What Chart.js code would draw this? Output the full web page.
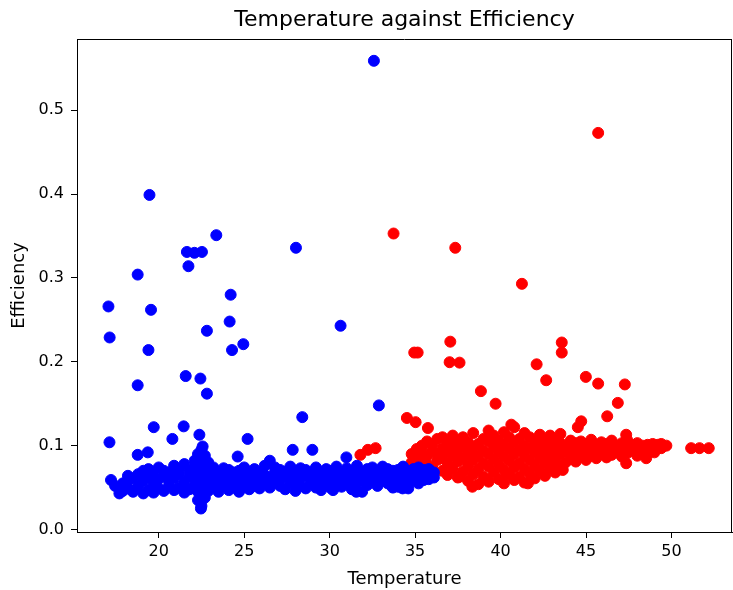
<!DOCTYPE html>
<html>
<head>
<meta charset="utf-8">
<title>Temperature against Efficiency</title>
<script src="https://cdn.jsdelivr.net/npm/chart.js@4.4.0/dist/chart.umd.min.js"></script>
<style>
  html, body { margin: 0; padding: 0; background: #fff; }
  #chart { display: block; }
</style>
</head>
<body>
<canvas id="chart" width="733" height="590"></canvas>
<script>
// [temperature, efficiency] readings, cooler panels
var bluePoints = [
    [32.59, 0.559], [19.46, 0.399], [23.37, 0.351], [28.03, 0.336], [21.65, 0.331],
    [22.09, 0.330], [22.53, 0.331], [21.74, 0.314], [18.77, 0.304], [24.21, 0.280],
    [17.06, 0.266], [19.55, 0.262], [24.15, 0.248], [30.64, 0.243], [22.82, 0.237],
    [17.13, 0.229], [24.95, 0.221], [24.29, 0.214], [19.40, 0.214], [21.58, 0.183],
    [22.44, 0.180], [18.77, 0.172], [22.82, 0.162], [32.88, 0.148], [28.40, 0.134],
    [19.71, 0.122], [21.46, 0.123], [22.38, 0.113], [20.80, 0.108], [25.20, 0.108],
    [17.12, 0.104], [22.57, 0.099], [27.84, 0.095], [28.99, 0.095], [19.36, 0.092],
    [18.77, 0.089], [24.62, 0.087], [30.98, 0.086], [22.47, 0.033], [22.47, 0.025],
    [17.21, 0.059], [17.45, 0.052], [17.70, 0.043], [31.56, 0.045], [33.68, 0.051],
    [34.27, 0.049], [30.2, 0.047],
    [17.9, 0.046], [17.9, 0.055],
    [18.2, 0.049], [18.2, 0.058], [18.2, 0.064],
    [18.5, 0.045], [18.5, 0.061],
    [18.8, 0.052], [18.8, 0.066],
    [19.1, 0.043], [19.1, 0.058], [19.1, 0.070],
    [19.4, 0.047], [19.4, 0.062], [19.4, 0.072],
    [19.7, 0.044], [19.7, 0.055], [19.7, 0.068],
    [20.0, 0.049], [20.0, 0.060], [20.0, 0.074],
    [20.3, 0.046], [20.3, 0.064], [20.3, 0.070],
    [20.6, 0.052], [20.6, 0.058], [20.6, 0.068],
    [20.9, 0.047], [20.9, 0.061], [20.9, 0.076],
    [21.2, 0.050], [21.2, 0.066], [21.2, 0.072],
    [21.5, 0.044], [21.5, 0.057], [21.5, 0.078],
    [21.8, 0.048], [21.8, 0.063], [21.8, 0.070],
    [22.1, 0.052], [22.1, 0.060], [22.1, 0.075], [22.1, 0.082],
    [22.3, 0.035], [22.3, 0.045], [22.3, 0.058], [22.3, 0.068], [22.3, 0.085], [22.3, 0.090],
    [22.5, 0.028], [22.5, 0.040], [22.5, 0.052], [22.5, 0.064], [22.5, 0.072], [22.5, 0.080], [22.5, 0.095],
    [22.7, 0.038], [22.7, 0.050], [22.7, 0.062], [22.7, 0.078], [22.7, 0.088],
    [22.9, 0.046], [22.9, 0.058], [22.9, 0.070], [22.9, 0.080],
    [23.2, 0.050], [23.2, 0.062], [23.2, 0.074],
    [23.5, 0.045], [23.5, 0.057], [23.5, 0.069],
    [23.8, 0.052], [23.8, 0.064], [23.8, 0.073],
    [24.1, 0.047], [24.1, 0.059], [24.1, 0.071],
    [24.4, 0.050], [24.4, 0.062], [24.4, 0.068],
    [24.7, 0.045], [24.7, 0.056], [24.7, 0.070],
    [25.0, 0.051], [25.0, 0.061], [25.0, 0.074],
    [25.3, 0.048], [25.3, 0.058], [25.3, 0.066],
    [25.6, 0.052], [25.6, 0.063], [25.6, 0.072],
    [25.9, 0.049], [25.9, 0.057], [25.9, 0.068],
    [26.2, 0.054], [26.2, 0.065], [26.2, 0.076],
    [26.5, 0.050], [26.5, 0.061], [26.5, 0.082],
    [26.8, 0.056], [26.8, 0.068], [26.8, 0.074],
    [27.1, 0.052], [27.1, 0.060], [27.1, 0.071],
    [27.4, 0.048], [27.4, 0.063], [27.4, 0.069],
    [27.7, 0.055], [27.7, 0.066], [27.7, 0.075],
    [28.0, 0.046], [28.0, 0.058], [28.0, 0.070],
    [28.3, 0.052], [28.3, 0.061], [28.3, 0.073],
    [28.6, 0.049], [28.6, 0.064], [28.6, 0.071],
    [28.9, 0.055], [28.9, 0.060], [28.9, 0.068],
    [29.2, 0.050], [29.2, 0.062], [29.2, 0.074],
    [29.5, 0.047], [29.5, 0.057], [29.5, 0.067],
    [29.8, 0.053], [29.8, 0.065], [29.8, 0.072],
    [30.1, 0.049], [30.1, 0.060], [30.1, 0.070],
    [30.4, 0.055], [30.4, 0.063], [30.4, 0.075],
    [30.7, 0.051], [30.7, 0.059], [30.7, 0.068],
    [31.0, 0.054], [31.0, 0.066], [31.0, 0.073],
    [31.3, 0.048], [31.3, 0.061], [31.3, 0.070],
    [31.6, 0.056], [31.6, 0.064], [31.6, 0.076],
    [31.9, 0.045], [31.9, 0.058], [31.9, 0.069],
    [32.2, 0.053], [32.2, 0.062], [32.2, 0.072],
    [32.5, 0.057], [32.5, 0.066], [32.5, 0.074],
    [32.8, 0.052], [32.8, 0.060], [32.8, 0.070],
    [33.1, 0.058], [33.1, 0.064], [33.1, 0.075],
    [33.4, 0.055], [33.4, 0.067], [33.4, 0.072],
    [33.7, 0.050], [33.7, 0.061], [33.7, 0.070],
    [34.0, 0.051], [34.0, 0.063], [34.0, 0.071],
    [34.3, 0.057], [34.3, 0.066], [34.3, 0.075],
    [34.6, 0.049], [34.6, 0.060], [34.6, 0.069],
    [34.9, 0.058], [34.9, 0.064], [34.9, 0.072],
    [35.2, 0.055], [35.2, 0.062], [35.2, 0.074],
    [35.5, 0.059], [35.5, 0.067], [35.5, 0.071],
    [35.8, 0.060], [35.8, 0.065], [35.8, 0.072],
    [36.1, 0.062], [36.1, 0.068]
];

// [temperature, efficiency] readings, hotter panels
var redPoints = [
    [45.71, 0.473], [33.74, 0.353], [37.35, 0.336], [41.25, 0.293], [37.06, 0.224],
    [34.95, 0.211], [35.15, 0.211], [43.58, 0.223], [43.58, 0.211], [37.02, 0.1995],
    [37.60, 0.199], [42.11, 0.197], [44.99, 0.182], [42.67, 0.178], [45.71, 0.174],
    [47.27, 0.173], [38.85, 0.165], [46.86, 0.151], [39.71, 0.150], [46.24, 0.135],
    [34.52, 0.133], [35.03, 0.128], [44.72, 0.129], [40.63, 0.125], [44.52, 0.122],
    [35.75, 0.121], [47.35, 0.113], [48.90, 0.102], [49.20, 0.101], [31.80, 0.089],
    [32.24, 0.095], [32.69, 0.097], [51.15, 0.097], [51.64, 0.097], [52.18, 0.097],
    [48.52, 0.085], [47.35, 0.079], [43.64, 0.071], [41.60, 0.055], [38.35, 0.051],
    [37.60, 0.063], [39.26, 0.059], [40.12, 0.059],
    [34.8, 0.080], [34.8, 0.090],
    [35.1, 0.075], [35.1, 0.086], [35.1, 0.096],
    [35.4, 0.082], [35.4, 0.092], [35.4, 0.100],
    [35.7, 0.078], [35.7, 0.088], [35.7, 0.105],
    [36.0, 0.074], [36.0, 0.094], [36.0, 0.101],
    [36.3, 0.083], [36.3, 0.090], [36.3, 0.108],
    [36.6, 0.070], [36.6, 0.085], [36.6, 0.097], [36.6, 0.110],
    [36.9, 0.065], [36.9, 0.079], [36.9, 0.092], [36.9, 0.104],
    [37.2, 0.072], [37.2, 0.088], [37.2, 0.099], [37.2, 0.112],
    [37.5, 0.062], [37.5, 0.081], [37.5, 0.094], [37.5, 0.106],
    [37.8, 0.069], [37.8, 0.085], [37.8, 0.100], [37.8, 0.110],
    [38.1, 0.058], [38.1, 0.076], [38.1, 0.091], [38.1, 0.104],
    [38.4, 0.066], [38.4, 0.083], [38.4, 0.097], [38.4, 0.115],
    [38.7, 0.054], [38.7, 0.072], [38.7, 0.088], [38.7, 0.102],
    [39.0, 0.063], [39.0, 0.079], [39.0, 0.094], [39.0, 0.108],
    [39.3, 0.057], [39.3, 0.075], [39.3, 0.090], [39.3, 0.105], [39.3, 0.118],
    [39.6, 0.068], [39.6, 0.084], [39.6, 0.098], [39.6, 0.112],
    [39.9, 0.060], [39.9, 0.077], [39.9, 0.093], [39.9, 0.106],
    [40.2, 0.055], [40.2, 0.071], [40.2, 0.087], [40.2, 0.101], [40.2, 0.116],
    [40.5, 0.066], [40.5, 0.082], [40.5, 0.096], [40.5, 0.110],
    [40.8, 0.059], [40.8, 0.074], [40.8, 0.090], [40.8, 0.104], [40.8, 0.122],
    [41.1, 0.063], [41.1, 0.079], [41.1, 0.095], [41.1, 0.108],
    [41.4, 0.056], [41.4, 0.072], [41.4, 0.088], [41.4, 0.100], [41.4, 0.115],
    [41.7, 0.067], [41.7, 0.083], [41.7, 0.097], [41.7, 0.110],
    [42.0, 0.061], [42.0, 0.076], [42.0, 0.092], [42.0, 0.105],
    [42.3, 0.070], [42.3, 0.085], [42.3, 0.099], [42.3, 0.113],
    [42.6, 0.064], [42.6, 0.079], [42.6, 0.094], [42.6, 0.106],
    [42.9, 0.073], [42.9, 0.088], [42.9, 0.100], [42.9, 0.112],
    [43.2, 0.068], [43.2, 0.082], [43.2, 0.095], [43.2, 0.108],
    [43.5, 0.076], [43.5, 0.090], [43.5, 0.103], [43.5, 0.114],
    [43.8, 0.080], [43.8, 0.093], [43.8, 0.100],
    [44.1, 0.084], [44.1, 0.096], [44.1, 0.106],
    [44.4, 0.081], [44.4, 0.091], [44.4, 0.103],
    [44.7, 0.087], [44.7, 0.098], [44.7, 0.105],
    [45.0, 0.083], [45.0, 0.094], [45.0, 0.102],
    [45.3, 0.088], [45.3, 0.097], [45.3, 0.107],
    [45.6, 0.085], [45.6, 0.093], [45.6, 0.101],
    [45.9, 0.090], [45.9, 0.099], [45.9, 0.104],
    [46.2, 0.086], [46.2, 0.095], [46.2, 0.102],
    [46.5, 0.089], [46.5, 0.098], [46.5, 0.106],
    [46.8, 0.092], [46.8, 0.100],
    [47.1, 0.087], [47.1, 0.096], [47.1, 0.103],
    [47.4, 0.091], [47.4, 0.099], [47.4, 0.107],
    [47.7, 0.094], [47.7, 0.101],
    [48.0, 0.088], [48.0, 0.097], [48.0, 0.103],
    [48.3, 0.093], [48.3, 0.100],
    [48.6, 0.095], [48.6, 0.101],
    [49.0, 0.092], [49.0, 0.099],
    [49.4, 0.097], [49.4, 0.102],
    [49.7, 0.100]
];

var tempTicks = [20, 25, 30, 35, 40, 45, 50];
var effTicks = [0.0, 0.1, 0.2, 0.3, 0.4, 0.5];

function toXY(list) {
    return list.map(function(p) { return {x: p[0], y: p[1]}; });
}

// matplotlib style frame: Chart.js only draws the left and bottom borders
var boxPlugin = {
    id: 'box',
    afterDraw: function(chart) {
        var a = chart.chartArea, ctx = chart.ctx;
        ctx.save();
        ctx.strokeStyle = '#000';
        ctx.lineWidth = 1;
        ctx.beginPath();
        ctx.moveTo(a.left, a.top + 0.5);
        ctx.lineTo(a.right, a.top + 0.5);
        ctx.moveTo(a.right - 0.5, a.top);
        ctx.lineTo(a.right - 0.5, a.bottom);
        ctx.stroke();
        ctx.restore();
    }
};

var font = 'DejaVu Sans';

new Chart(document.getElementById('chart'), {
    type: 'scatter',
    data: {
        datasets: [
            {
                data: toXY(bluePoints),
                backgroundColor: '#0000ff',
                borderColor: '#0000ff',
                pointRadius: 5.5,
                borderWidth: 1
            },
            {
                data: toXY(redPoints),
                backgroundColor: '#ff0000',
                borderColor: '#ff0000',
                pointRadius: 5.5,
                borderWidth: 1
            }
        ]
    },
    options: {
        responsive: false,
        animation: false,
        devicePixelRatio: 1,
        layout: {autoPadding: false, padding: {left: 0, right: 1, top: 0, bottom: 0}},
        plugins: {
            legend: {display: false},
            tooltip: {enabled: false},
            title: {
                display: true,
                fullSize: false,
                text: 'Temperature against Efficiency',
                color: '#000',
                font: {family: font, size: 22, weight: 'normal'},
                padding: {top: 7, bottom: 5.6}
            }
        },
        scales: {
            x: {
                type: 'linear',
                min: 15.22,
                max: 53.54,
                afterFit: function(scale) { scale.height = 58; },
                afterBuildTicks: function(scale) {
                    scale.ticks = tempTicks.map(function(v) { return {value: v}; });
                },
                ticks: {
                    color: '#000',
                    font: {family: font, size: 16},
                    padding: 4,
                    maxRotation: 0,
                    callback: function(v) { return String(v); }
                },
                grid: {drawOnChartArea: false, drawTicks: true, tickLength: 6, tickColor: '#000', tickWidth: 1},
                border: {display: true, color: '#000', width: 1},
                title: {
                    display: true,
                    text: 'Temperature',
                    color: '#000',
                    font: {family: font, size: 18},
                    padding: {top: 0, bottom: 0}
                }
            },
            y: {
                type: 'linear',
                min: -0.003,
                max: 0.585,
                afterFit: function(scale) { scale.width = 77; },
                afterBuildTicks: function(scale) {
                    scale.ticks = effTicks.map(function(v) { return {value: v}; });
                },
                ticks: {
                    color: '#000',
                    font: {family: font, size: 16},
                    padding: 7,
                    callback: function(v) { return v.toFixed(1); }
                },
                grid: {drawOnChartArea: false, drawTicks: true, tickLength: 6, tickColor: '#000', tickWidth: 1},
                border: {display: true, color: '#000', width: 1},
                title: {
                    display: true,
                    text: 'Efficiency',
                    color: '#000',
                    font: {family: font, size: 18},
                    padding: {top: 8.5, bottom: 0}
                }
            }
        }
    },
    plugins: [boxPlugin]
});
</script>
</body>
</html>
